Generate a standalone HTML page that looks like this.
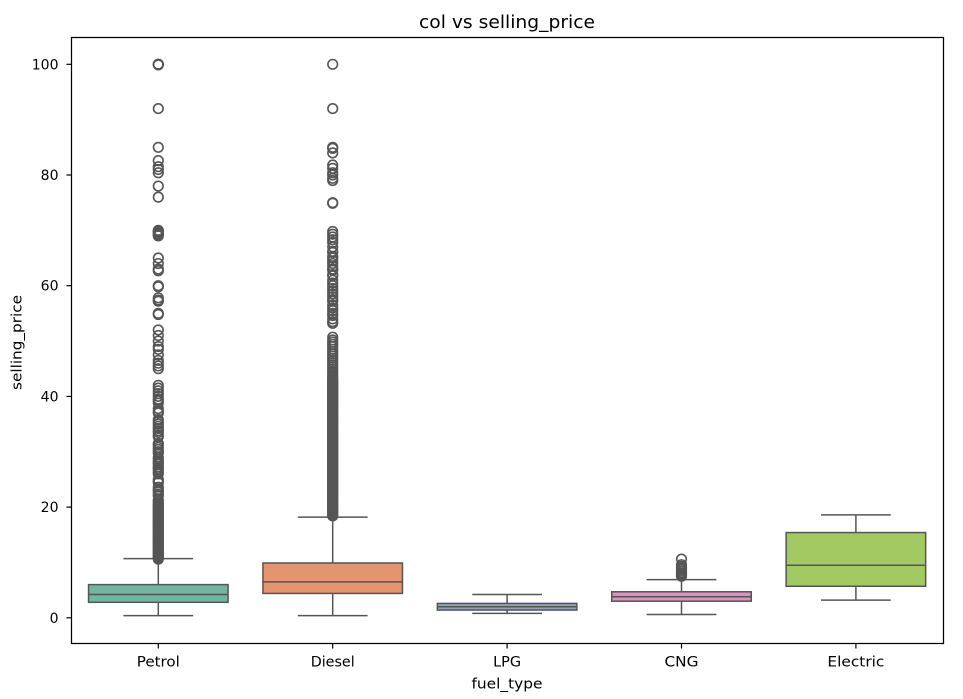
<!DOCTYPE html>
<html lang="en">
<head>
<meta charset="utf-8">
<title>col vs selling_price</title>
<style>
html,body{margin:0;padding:0;background:#fff;}
svg{display:block;font-family:"DejaVu Sans","Liberation Sans",sans-serif;}
</style>
</head>
<body>
<svg id="chart" xmlns="http://www.w3.org/2000/svg" width="963" height="699" viewBox="0 0 963 699">
<defs><filter id="soft" x="-2%" y="-2%" width="104%" height="104%"><feGaussianBlur stdDeviation="0.36"/></filter></defs>
<g id="root" filter="url(#soft)"></g>
</svg>
<script>
const categories = ["Petrol", "Diesel", "LPG", "CNG", "Electric"];
const whiskerLow = [0.4, 0.4, 0.8, 0.6, 3.2];
const quartile1 = [2.8, 4.4, 1.4, 3.0, 5.7];
const medians = [4.2, 6.5, 2.0, 3.8, 9.5];
const quartile3 = [6.0, 9.9, 2.6, 4.7, 15.4];
const whiskerHigh = [10.7, 18.2, 4.2, 6.9, 18.6];
const boxColors = ["#72B5A0", "#E5946F", "#92A0C4", "#DE90BE", "#A2C962"];
const yTickValues = [0, 20, 40, 60, 80, 100];
const outliersPetrol = [100,100,100,99.9,92,85,82.6,81.5,81,80.4,78,76,70,69.8,69.6,69.4,69.2,69,65,64,63,62.7,60,59.8,57.8,57.4,57.2,55,54.8,52,51,50,49,48.5,47.5,46.5,46,45.5,45,42,41.5,41,40.5,40,39.5,39.2,38.8,37.8,37.3,37,35.8,35.4,35,34.6,34.2,33.8,33.5,33,32.7,31.5,31.2,30.8,30.4,30,29.7,29,28.6,28.2,28,27.7,27.3,27,26.7,26.3,26,25,24.7,24.4,23.6,23.2,23,22.7,22.3,22,21.3,21,20.7,20.4,20.2,20,19.8,19.6,19.4,19.2,19,18.8,18.6,18.4,18.2,18,17.8,17.6,17.4,17.2,17,16.8,16.6,16.4,16.2,16,15.8,15.6,15.4,15.2,15,14.8,14.6,14.4,14.2,14,13.8,13.6,13.4,13.2,13,12.8,12.6,12.4,12.2,12,11.8,11.6,11.4,11.2,11,10.8,10.6];
const outliersDiesel = [100,92,85,84.8,84,81.8,81.2,80.4,80,79.4,79,75,74.9,69.8,69.3,68.8,68.3,67.8,67,66.2,66,65.3,65,64.5,64,63.5,63,62.8,62,61.8,61,60.5,60,59.5,59,58.5,58,57.5,57.2,56.5,56,55.5,55,54.6,54,53.5,53.2,50.7,50.2,49.8,49.4,49,48.5,48.1,47.7,47.3,46.9,46.5,46.1,45.7,45.3,44.9,44.5,44.2,43.8,43.5,43.2,43,42.8,42.6,42.4,42.2,42,41.8,41.6,41.4,41.2,41,40.8,40.6,40.4,40.2,40,39.8,39.6,39.4,39.2,39,38.8,38.6,38.4,38.2,38,37.8,37.6,37.4,37.2,37,36.8,36.6,36.4,36.2,36,35.8,35.6,35.4,35.2,35,34.8,34.6,34.4,34.2,34,33.8,33.6,33.4,33.2,33,32.8,32.6,32.4,32.2,32,31.8,31.6,31.4,31.2,31,30.8,30.6,30.4,30.2,30,29.8,29.6,29.4,29.2,29,28.8,28.6,28.4,28.2,28,27.8,27.6,27.4,27.2,27,26.8,26.6,26.4,26.2,26,25.8,25.6,25.4,25.2,25,24.8,24.6,24.4,24.2,24,23.8,23.6,23.4,23.2,23,22.8,22.6,22.4,22.2,22,21.8,21.6,21.4,21.2,21,20.8,20.6,20.4,20.2,20,19.8,19.6,19.4,19.2,19,18.8,18.6,18.4];
const outliersLPG = [];
const outliersCNG = [10.6,9.6,9.3,9,8.7,8.4,8.1,7.9,7.7,7.5];
const outliersElectric = [];
const outlierSets = [outliersPetrol, outliersDiesel, outliersLPG, outliersCNG, outliersElectric];

const plotLeft = 71.5, plotRight = 943.5, plotTop = 37.5, plotBottom = 643.5;
const yZero = 617.8, yHundred = 64.3;
const lineColor = "#555555";
const root = document.getElementById("root");

function xScale(i) { return plotLeft - 0.4 + (i + 0.5) * (plotRight - plotLeft) / categories.length; }
function yScale(v) { return yZero + (yHundred - yZero) * v / 100; }
function bandWidth() { return (plotRight - plotLeft) / categories.length; }
function svgEl(tag, attrs) {
  const el = document.createElementNS("http://www.w3.org/2000/svg", tag);
  for (const k in attrs) el.setAttribute(k, attrs[k]);
  return el;
}
function makeLine(x1, y1, x2, y2, color, width) {
  return svgEl("line", { x1: x1, y1: y1, x2: x2, y2: y2, stroke: color, "stroke-width": width });
}
function makeText(x, y, str, size, anchor, length) {
  const t = svgEl("text", { x: x, y: y, "font-size": size, "text-anchor": anchor, fill: "#000000" });
  if (length) {
    t.setAttribute("textLength", length);
    t.setAttribute("lengthAdjust", "spacingAndGlyphs");
  }
  t.textContent = str;
  return t;
}
const xLabelLengths = [43, 44, 28, 34, 57];

categories.forEach(function (cat, i) {
  const g = svgEl("g", {});
  
  
  const cx = xScale(i);
  const boxW = bandWidth() * 0.8;
  const capW = bandWidth() * 0.4;

  const wLow = makeLine(cx, yScale(quartile1[i]), cx, yScale(whiskerLow[i]), lineColor, 1.5);
  
  
  g.appendChild(wLow);

  const wHigh = makeLine(cx, yScale(quartile3[i]), cx, yScale(whiskerHigh[i]), lineColor, 1.5);
  
  
  g.appendChild(wHigh);

  const capLow = makeLine(cx - capW / 2, yScale(whiskerLow[i]), cx + capW / 2, yScale(whiskerLow[i]), lineColor, 1.5);
  
  
  g.appendChild(capLow);

  const capHigh = makeLine(cx - capW / 2, yScale(whiskerHigh[i]), cx + capW / 2, yScale(whiskerHigh[i]), lineColor, 1.5);
  
  
  g.appendChild(capHigh);

  const rect = svgEl("rect", {
    x: cx - boxW / 2,
    y: yScale(quartile3[i]),
    width: boxW,
    height: yScale(quartile1[i]) - yScale(quartile3[i]),
    fill: boxColors[i],
    stroke: lineColor,
    "stroke-width": 1.5
  });
  
  
  g.appendChild(rect);

  const med = makeLine(cx - boxW / 2, yScale(medians[i]), cx + boxW / 2, yScale(medians[i]), lineColor, 1.5);
  
  
  g.appendChild(med);

  outlierSets[i].forEach(function (v) {
    const c = svgEl("circle", { cx: cx, cy: yScale(v), r: 4.8, fill: "none", stroke: lineColor, "stroke-width": 1.6 });
    
    
    g.appendChild(c);
  });
  root.appendChild(g);

  const tick = makeLine(cx, plotBottom, cx, plotBottom + 5, "#000000", 1.2);
  
  
  root.appendChild(tick);

  const label = makeText(cx, 666.5, cat, 14.4, "middle", xLabelLengths[i]);
  
  
  root.appendChild(label);
});

yTickValues.forEach(function (v) {
  const y = yScale(v);
  const tick = makeLine(plotLeft - 5, y, plotLeft, y, "#000000", 1.2);
  
  
  root.appendChild(tick);

  const label = makeText(58.5, y + 5, String(v), 14, "end");
  
  
  root.appendChild(label);
});

const frame = svgEl("rect", {
  x: plotLeft, y: plotTop, width: plotRight - plotLeft, height: plotBottom - plotTop,
  fill: "none", stroke: "#000000", "stroke-width": 1.25
});


root.appendChild(frame);

const title = makeText(507, 28, "col vs selling_price", 17.6, "middle", 176);


root.appendChild(title);

const xTitle = makeText(507, 688.5, "fuel_type", 14.4, "middle", 71);


root.appendChild(xTitle);

const yTitle = makeText(0, 0, "selling_price", 14.4, "middle", 95);
yTitle.setAttribute("transform", "translate(21.5,342.5) rotate(-90)");


root.appendChild(yTitle);
</script>
</body>
</html>
